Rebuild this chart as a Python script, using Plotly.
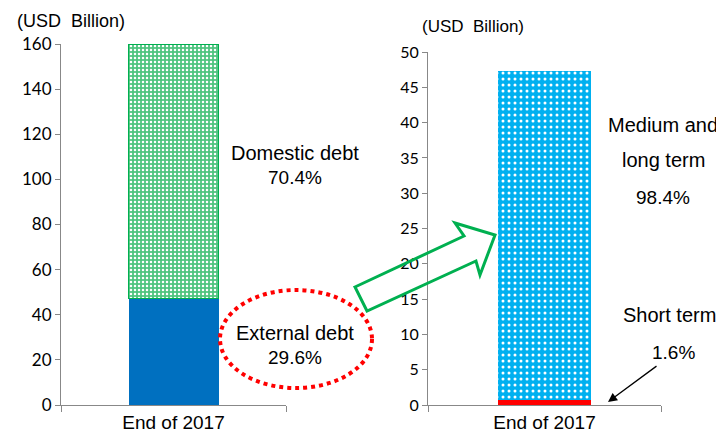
import plotly.graph_objects as go

# data (USD billion, end of 2017)
period = ["End of 2017"]
external_debt = [47.4]
domestic_debt = [112.6]
short_term = [0.76]
medium_long_term = [46.6]

# the page body adds an 8px margin, so the figure is 8px smaller on each axis
OFF = 8
W, H = 724 - OFF, 439 - OFF


def px_x(x):
    return (x - OFF) / W


def px_y(y):
    return 1 - (y - OFF) / H


fig = go.Figure()

fig.add_trace(go.Bar(
    x=[0], y=external_debt, width=0.4, marker_color="#0070c0",
    marker_line_width=0, xaxis="x", yaxis="y", name="External debt",
))
fig.add_trace(go.Bar(
    x=[0], y=domestic_debt, width=0.4, marker_color="#4fc47f",
    marker_line=dict(color="#00b050", width=1),
    marker_pattern=dict(shape=".", fgcolor="#ffffff", bgcolor="#4fc47f",
                        size=4, solidity=0.3, fillmode="replace"),
    xaxis="x", yaxis="y", name="Domestic debt",
))
fig.add_trace(go.Bar(
    x=[0], y=short_term, width=0.4, marker_color="#ff0000",
    marker_line_width=0, xaxis="x2", yaxis="y2", name="Short term",
))
fig.add_trace(go.Bar(
    x=[0], y=medium_long_term, width=0.4, marker_color="#00b0f0",
    marker_line_width=0,
    marker_pattern=dict(shape=".", fgcolor="#ffffff", bgcolor="#00b0f0",
                        size=6, solidity=0.2, fillmode="replace"),
    xaxis="x2", yaxis="y2", name="Medium and long term",
))

axis_line = dict(showline=True, linecolor="#888888", linewidth=1, showgrid=False,
                 zeroline=False, automargin=False)
tick_font = dict(family="Lato, Open Sans, sans-serif", size=17, color="#000000")
cat_font = dict(family="Liberation Sans, Arial, sans-serif", size=19, color="#000000")
lbl_font = dict(family="Liberation Sans, Arial, sans-serif", size=20, color="#000000")
pct_font = dict(lbl_font, size=19)

fig.update_layout(
    width=W, height=H, barmode="stack", showlegend=False,
    margin=dict(l=0, r=0, t=0, b=0, autoexpand=False),
    paper_bgcolor="white", plot_bgcolor="white",
    xaxis=dict(domain=[px_x(61), px_x(286)], range=[-0.5, 0.5], anchor="y",
               tickvals=[0], ticktext=period, ticks="", tickfont=cat_font,
               minor=dict(tickmode="array", tickvals=[-0.5, 0.5], ticks="outside",
                          ticklen=6, tickcolor="#888888"),
               **axis_line),
    yaxis=dict(domain=[px_y(405), px_y(44)], range=[0, 160], dtick=20, anchor="x",
               ticks="outside", ticklen=5, tickcolor="#888888", tickfont=tick_font,
               **axis_line),
    xaxis2=dict(domain=[px_x(428), px_x(661)], range=[-0.5, 0.5], anchor="y2",
                tickvals=[0], ticktext=period, ticks="", tickfont=cat_font,
                minor=dict(tickmode="array", tickvals=[-0.5, 0.5], ticks="outside",
                           ticklen=6, tickcolor="#888888"),
                **axis_line),
    yaxis2=dict(domain=[px_y(405), px_y(52)], range=[0, 50], dtick=5, anchor="x2",
                ticks="outside", ticklen=5, tickcolor="#888888",
                tickfont=dict(tick_font, size=16), **axis_line),
)

unit_font = dict(family="Liberation Sans, Arial, sans-serif", size=18, color="#000000")


def note(x, y, text, font=lbl_font):
    fig.add_annotation(x=px_x(x), y=px_y(y), xref="paper", yref="paper", text=text,
                       showarrow=False, font=font, xanchor="center", yanchor="middle")


note(71, 21, "(USD  Billion)", unit_font)
note(473, 27, "(USD  Billion)", dict(unit_font, size=17))
note(295, 153, "Domestic debt")
note(295, 177, "70.4%", pct_font)
note(295, 333, "External debt")
note(295, 357, "29.6%", pct_font)
note(663, 125, "Medium and")
note(663, 160, "long term")
note(663, 197, "98.4%", pct_font)
note(669, 315, "Short term")
note(673, 352, "1.6%", pct_font)

# red dotted ellipse around external debt
fig.add_shape(type="circle", xref="paper", yref="paper",
              x0=px_x(220), x1=px_x(372), y0=px_y(388), y1=px_y(290),
              line=dict(color="#ff0000", width=4, dash="dot"))

# green hollow block arrow
pts = [(355, 287), (464, 236), (455, 223), (495, 235), (480, 275), (476, 261), (367, 311)]
path = "M " + " L ".join(f"{px_x(a):.4f},{px_y(b):.4f}" for a, b in pts) + " Z"
fig.add_shape(type="path", xref="paper", yref="paper", path=path,
              line=dict(color="#00b050", width=3), fillcolor="rgba(0,0,0,0)")

# black arrow to short term
fig.add_annotation(x=px_x(608), y=px_y(402), ax=50, ay=-37,
                   xref="paper", yref="paper",
                   text="", showarrow=True, arrowhead=2, arrowsize=1.4,
                   arrowwidth=1.3, arrowcolor="#000000")

fig.write_html("out.html")
